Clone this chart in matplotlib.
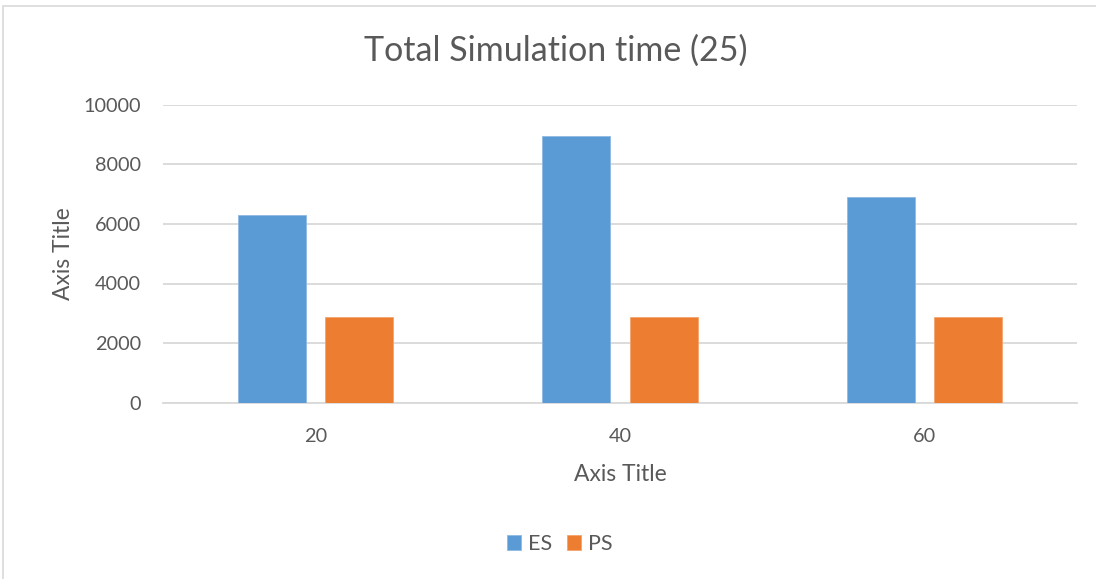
import matplotlib
matplotlib.use("Agg")
import matplotlib.pyplot as plt
from matplotlib.patches import Rectangle
import numpy as np

# Chart data
categories = ["20", "40", "60"]
es_values = [6300, 8960, 6920]
ps_values = [2870, 2870, 2870]
series_names = ["ES", "PS"]
y_ticks = [0, 2000, 4000, 6000, 8000, 10000]

TEXT = "#595959"
GRID = "#D9D9D9"
ES_COLOR = "#5B9BD5"
PS_COLOR = "#ED7D31"

plt.rcParams["font.family"] = ["Lato", "DejaVu Sans"]

W, H = 1096, 579
fig = plt.figure(figsize=(W / 100, H / 100), dpi=100)
fig.patch.set_facecolor("white")

# Chart frame
fig.add_artist(Rectangle((3 / W, 0 - 0.01), 1.2, (H - 6) / H + 0.01,
                         transform=fig.transFigure, fill=False,
                         edgecolor=GRID, linewidth=1.2))

ax = fig.add_axes([163 / W, 1 - 402.5 / H, (1077 - 163) / W, (402.5 - 105) / H])

x = np.arange(len(categories))
width = 0.223
offset = 0.143
ax.bar(x - offset, es_values, width, color=ES_COLOR, label=series_names[0],
       edgecolor="#8DB9E3", linewidth=0.6, zorder=3)
ax.bar(x + offset, ps_values, width, color=PS_COLOR, label=series_names[1],
       edgecolor="#F3A46E", linewidth=0.6, zorder=3)

ax.set_xlim(-0.5, len(categories) - 0.5)
ax.set_ylim(0, 10000)
ax.set_yticks(y_ticks)
ax.set_yticklabels([str(v) for v in y_ticks])
ax.set_xticks(x)
ax.set_xticklabels(categories)

ax.yaxis.grid(True, color=GRID, linewidth=1.3, zorder=0)
ax.set_axisbelow(True)
for side in ["top", "right", "left"]:
    ax.spines[side].set_visible(False)
ax.spines["bottom"].set_color(GRID)
ax.spines["bottom"].set_linewidth(1.3)

ax.tick_params(axis="both", length=0, labelsize=14.3, colors=TEXT)
ax.tick_params(axis="y", pad=16)
ax.tick_params(axis="x", pad=18)

ax.set_xlabel("Axis Title", fontsize=16.5, color=TEXT, labelpad=14)
ax.set_ylabel("Axis Title", fontsize=16.5, color=TEXT, labelpad=7)

fig.text(556 / W, 1 - 51 / H, "Total Simulation time (25)", ha="center",
         va="center", fontsize=24.5, color=TEXT)

leg = fig.legend(loc="center", bbox_to_anchor=(560 / W, 1 - 544 / H),
                 ncol=2, frameon=False, fontsize=15.5, handlelength=0.65,
                 handleheight=0.65, handletextpad=0.33, columnspacing=0.7)
for t in leg.get_texts():
    t.set_color(TEXT)

fig.savefig("out.png", dpi=100)
